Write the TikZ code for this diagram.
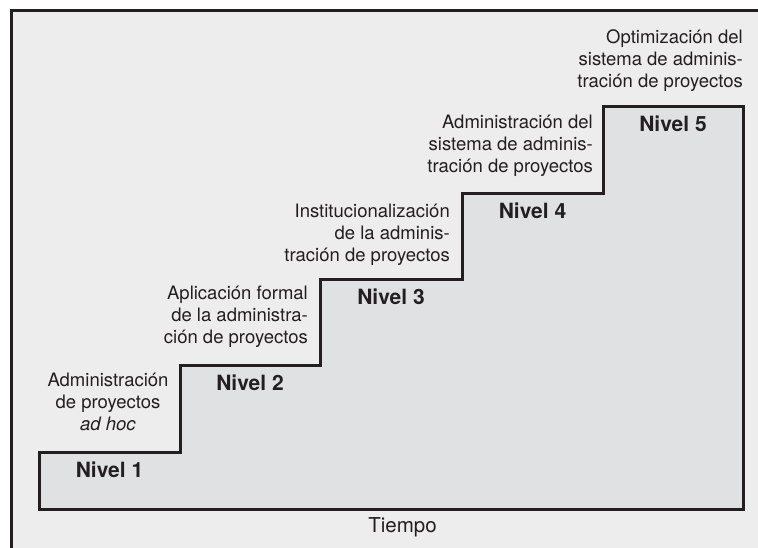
\documentclass[tikz,border=0pt]{standalone}
\usepackage{fontspec}
\setmainfont{TeX Gyre Heros}
\definecolor{bgin}{HTML}{EDEDED}
\definecolor{stairfill}{HTML}{E0E1E3}
\definecolor{ink}{HTML}{231F20}
\begin{document}
\begin{tikzpicture}[x=1pt,y=-1pt,
  labeltext/.style={font=\fontsize{18.5}{21.8}\selectfont, inner sep=0pt, text=ink},
  leveltext/.style={font=\fontsize{21}{25}\selectfont\bfseries, inner sep=0pt, anchor=base, text=ink},
  outline/.style={draw=ink, line width=3pt, line join=miter}]
\useasboundingbox (0,0) rectangle (758,547);
\begin{scope}
  \clip (0,0) rectangle (758,547);
  \draw[outline, fill=bgin] (11.5,10.5) rectangle (790,580);
\end{scope}
\draw[outline, fill=stairfill] (39,509) -- (39,452) -- (180,452) -- (180,365)
  -- (320,365) -- (320,279) -- (462,279) -- (462,193) -- (603,193) -- (603,106.5)
  -- (743,106.5) -- (743,509) -- cycle;
\node[leveltext] (n1) at (109.5,477) {Nivel 1};
\node[leveltext] (n2) at (250,390) {Nivel 2};
\node[leveltext] (n3) at (391,304) {Nivel 3};
\node[leveltext] (n4) at (532.5,218) {Nivel 4};
\node[leveltext] (n5) at (673,131) {Nivel 5};
\node[labeltext, align=center, anchor=base] (l1) at (108,430) {Administración\\de proyectos\\\textit{ad hoc}};
\node[labeltext, align=right, anchor=base east] (l2) at (308,343) {Aplicación formal\\de la administra-\\ción de proyectos};
\node[labeltext, align=right, anchor=base east] (l3) at (450,261) {Institucionalización\\de la adminis-\\tración de proyectos};
\node[labeltext, align=right, anchor=base east] (l4) at (593,172) {Administración del\\sistema de adminis-\\tración de proyectos};
\node[labeltext, align=right, anchor=base east] (l5) at (743,87) {Optimización del\\sistema de adminis-\\tración de proyectos};
\node[labeltext, font=\fontsize{20.5}{24}\selectfont, anchor=base] (t) at (402.5,532) {Tiempo};
\end{tikzpicture}
\end{document}
